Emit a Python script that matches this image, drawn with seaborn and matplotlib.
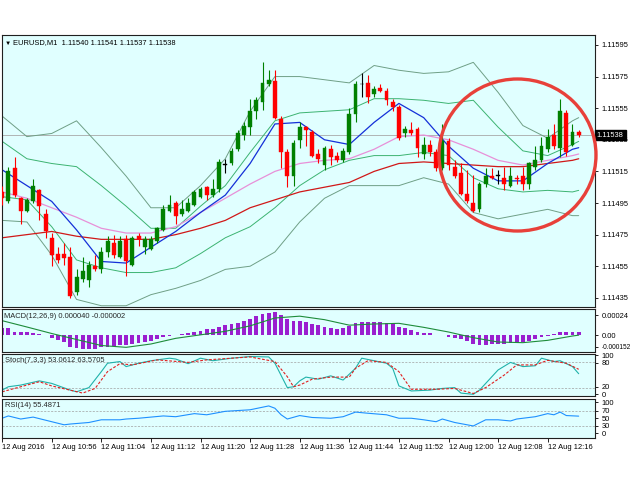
import numpy as np
import matplotlib
matplotlib.use("Agg")
import matplotlib.pyplot as plt
import matplotlib.transforms as mtransforms
from matplotlib.patches import Ellipse
import seaborn as sns

sns.set_theme(style="white")
plt.rcParams["font.family"] = ["Liberation Sans", "DejaVu Sans"]

# ---------------- data ----------------
SYMBOL = "EURUSD,M1"
LAST_OHLC = [1.11540, 1.11541, 1.11537, 1.11538]

OPEN = [1.11502, 1.11496, 1.11517, 1.11498, 1.11490, 1.11496, 1.11503, 1.11488, 1.11473, 1.11463,
        1.11463, 1.11461, 1.11439, 1.11447, 1.11446, 1.11455, 1.11453, 1.11464, 1.11470, 1.11461,
        1.11472, 1.11456, 1.11474, 1.11467, 1.11466, 1.11471, 1.11478, 1.11490, 1.11495, 1.11488,
        1.11490, 1.11494, 1.11499, 1.11505, 1.11500, 1.11504, 1.11519, 1.11520, 1.11529, 1.11538,
        1.11543, 1.11553, 1.11559, 1.11570, 1.11572, 1.11548, 1.11527, 1.11512, 1.11535, 1.11543,
        1.11540, 1.11526, 1.11519, 1.11529, 1.11525, 1.11522, 1.11527, 1.11551, 1.11570, 1.11571,
        1.11564, 1.11568, 1.11566, 1.11559, 1.11556, 1.11539, 1.11541, 1.11542, 1.11526, 1.11532,
        1.11527, 1.11517, 1.11534, 1.11518, 1.11514, 1.11501, 1.11495, 1.11491, 1.11507, 1.11512,
        1.11512, 1.11511, 1.11506, 1.11511, 1.11512, 1.11507, 1.11518, 1.11522, 1.11529, 1.11538,
        1.11530, 1.11552, 1.11532, 1.11540]
HIGH = [1.11506, 1.11518, 1.11524, 1.11499, 1.11498, 1.11510, 1.11504, 1.11491, 1.11476, 1.11467,
        1.11470, 1.11467, 1.11453, 1.11461, 1.11458, 1.11462, 1.11467, 1.11474, 1.11475, 1.11474,
        1.11475, 1.11474, 1.11476, 1.11474, 1.11474, 1.11480, 1.11494, 1.11500, 1.11496, 1.11497,
        1.11498, 1.11503, 1.11505, 1.11506, 1.11510, 1.11523, 1.11523, 1.11530, 1.11541, 1.11546,
        1.11561, 1.11562, 1.11584, 1.11579, 1.11579, 1.11550, 1.11529, 1.11535, 1.11546, 1.11544,
        1.11541, 1.11529, 1.11531, 1.11532, 1.11527, 1.11530, 1.11555, 1.11572, 1.11577, 1.11576,
        1.11569, 1.11570, 1.11568, 1.11561, 1.11557, 1.11544, 1.11546, 1.11543, 1.11537, 1.11535,
        1.11529, 1.11545, 1.11536, 1.11522, 1.11520, 1.11516, 1.11513, 1.11508, 1.11517, 1.11517,
        1.11516, 1.11518, 1.11518, 1.11513, 1.11518, 1.11521, 1.11531, 1.11537, 1.11542, 1.11545,
        1.11561, 1.11554, 1.11545, 1.11541]
LOW = [1.11494, 1.11495, 1.11499, 1.11482, 1.11489, 1.11495, 1.11484, 1.11473, 1.11455, 1.11457,
       1.11456, 1.11435, 1.11437, 1.11445, 1.11442, 1.11452, 1.11451, 1.11461, 1.11460, 1.11460,
       1.11449, 1.11455, 1.11468, 1.11463, 1.11465, 1.11470, 1.11477, 1.11489, 1.11482, 1.11487,
       1.11489, 1.11493, 1.11498, 1.11497, 1.11499, 1.11502, 1.11514, 1.11519, 1.11528, 1.11535,
       1.11538, 1.11548, 1.11554, 1.11569, 1.11548, 1.11517, 1.11505, 1.11506, 1.11530, 1.11531,
       1.11524, 1.11520, 1.11516, 1.11519, 1.11521, 1.11521, 1.11526, 1.11546, 1.11562, 1.11558,
       1.11562, 1.11565, 1.11557, 1.11553, 1.11535, 1.11537, 1.11538, 1.11524, 1.11523, 1.11525,
       1.11515, 1.11516, 1.11516, 1.11511, 1.11500, 1.11495, 1.11489, 1.11489, 1.11505, 1.11510,
       1.11507, 1.11503, 1.11505, 1.11507, 1.11503, 1.11504, 1.11516, 1.11521, 1.11527, 1.11529,
       1.11524, 1.11525, 1.11531, 1.11537]
CLOSE = [1.11498, 1.11515, 1.11500, 1.11490, 1.11497, 1.11506, 1.11493, 1.11477, 1.11462, 1.11459,
         1.11460, 1.11436, 1.11448, 1.11452, 1.11456, 1.11453, 1.11464, 1.11471, 1.11462, 1.11471,
         1.11458, 1.11473, 1.11472, 1.11472, 1.11472, 1.11479, 1.11491, 1.11494, 1.11487, 1.11491,
         1.11495, 1.11502, 1.11504, 1.11500, 1.11504, 1.11521, 1.11519, 1.11528, 1.11539, 1.11544,
         1.11553, 1.11560, 1.11571, 1.11573, 1.11549, 1.11527, 1.11512, 1.11533, 1.11543, 1.11541,
         1.11525, 1.11523, 1.11530, 1.11524, 1.11522, 1.11528, 1.11551, 1.11570, 1.11570, 1.11562,
         1.11567, 1.11566, 1.11560, 1.11556, 1.11536, 1.11542, 1.11539, 1.11530, 1.11532, 1.11527,
         1.11517, 1.11534, 1.11519, 1.11512, 1.11501, 1.11496, 1.11490, 1.11507, 1.11512, 1.11511,
         1.11512, 1.11507, 1.11512, 1.11510, 1.11507, 1.11520, 1.11522, 1.11531, 1.11537, 1.11531,
         1.11553, 1.11527, 1.11540, 1.11538]

TICK_BARS = [0, 8, 16, 24, 32, 40, 48, 56, 64, 72, 80, 88]
TICK_LABELS = ["12 Aug 2016", "12 Aug 10:56", "12 Aug 11:04", "12 Aug 11:12", "12 Aug 11:20",
               "12 Aug 11:28", "12 Aug 11:36", "12 Aug 11:44", "12 Aug 11:52", "12 Aug 12:00",
               "12 Aug 12:08", "12 Aug 12:16"]
PRICE_TICKS = [1.11595, 1.11575, 1.11555, 1.11535, 1.11515, 1.11495, 1.11475, 1.11455, 1.11435]

# main-chart indicator lines, read every 4th bar
LINE_BARS = [0, 4, 8, 12, 16, 20, 24, 28, 32, 36, 40, 44, 48, 52, 56, 60, 64, 68, 72, 76,
             80, 84, 88, 92, 93]
MA_FAST = [1.11516, 1.11506, 1.11496, 1.11478, 1.11458, 1.11457, 1.11467, 1.11477, 1.11489, 1.11500,
           1.11520, 1.11545, 1.11546, 1.11535, 1.11532, 1.11546, 1.11558, 1.11549, 1.11531, 1.11517,
           1.11509, 1.11509, 1.11520, 1.11529, 1.11530]
MA_MID = [1.11502, 1.11498, 1.11492, 1.11486, 1.11479, 1.11476, 1.11476, 1.11480, 1.11489, 1.11498,
          1.11507, 1.11515, 1.11520, 1.11522, 1.11523, 1.11529, 1.11537, 1.11538, 1.11535, 1.11529,
          1.11522, 1.11519, 1.11522, 1.11525, 1.11526]
MA_SLOW = [1.11473, 1.11475, 1.11477, 1.11474, 1.11472, 1.11472, 1.11472, 1.11475, 1.11479, 1.11484,
           1.11492, 1.11497, 1.11502, 1.11505, 1.11508, 1.11515, 1.11520, 1.11521, 1.11520, 1.11519,
           1.11518, 1.11518, 1.11520, 1.11522, 1.11523]
BB_OUT_UP = [1.11550, 1.11537, 1.11539, 1.11547, 1.11530, 1.11512, 1.11492, 1.11492, 1.11506, 1.11523,
             1.11553, 1.11575, 1.11575, 1.11573, 1.11571, 1.11582, 1.11579, 1.11577, 1.11578, 1.11584,
             1.11565, 1.11544, 1.11536, 1.11547, 1.11549]
BB_IN_UP = [1.11534, 1.11523, 1.11520, 1.11518, 1.11506, 1.11493, 1.11479, 1.11479, 1.11493, 1.11506,
            1.11527, 1.11547, 1.11552, 1.11553, 1.11554, 1.11561, 1.11561, 1.11560, 1.11558, 1.11560,
            1.11543, 1.11528, 1.11525, 1.11532, 1.11534]
BB_IN_LO = [1.11499, 1.11497, 1.11480, 1.11459, 1.11454, 1.11451, 1.11451, 1.11454, 1.11463, 1.11473,
            1.11480, 1.11492, 1.11506, 1.11516, 1.11522, 1.11525, 1.11525, 1.11527, 1.11525, 1.11511,
            1.11504, 1.11502, 1.11503, 1.11502, 1.11503]
BB_OUT_LO = [1.11484, 1.11483, 1.11462, 1.11434, 1.11430, 1.11430, 1.11437, 1.11441, 1.11446, 1.11453,
             1.11455, 1.11464, 1.11483, 1.11498, 1.11506, 1.11506, 1.11506, 1.11511, 1.11507, 1.11489,
             1.11485, 1.11488, 1.11491, 1.11487, 1.11487]

MACD_MAIN = [88e-6, 80e-6, 40e-6, 32e-6, 32e-6, 30e-6, 12e-6, 2e-6, -32e-6, -60e-6,
             -80e-6, -140e-6, -160e-6, -172e-6, -172e-6, -172e-6, -140e-6, -140e-6, -132e-6, -124e-6,
             -120e-6, -108e-6, -92e-6, -84e-6, -68e-6, -52e-6, -28e-6, -16e-6, -4e-6, 12e-6,
             28e-6, 40e-6, 52e-6, 68e-6, 76e-6, 100e-6, 116e-6, 132e-6, 148e-6, 172e-6,
             196e-6, 228e-6, 252e-6, 268e-6, 272e-6, 240e-6, 188e-6, 172e-6, 165e-6, 152e-6,
             132e-6, 120e-6, 92e-6, 80e-6, 68e-6, 80e-6, 108e-6, 140e-6, 156e-6, 156e-6,
             156e-6, 152e-6, 148e-6, 132e-6, 100e-6, 80e-6, 60e-6, 32e-6, 28e-6, 20e-6,
             4e-6, -4e-6, -20e-6, -32e-6, -52e-6, -76e-6, -112e-6, -120e-6, -116e-6, -108e-6,
             -108e-6, -104e-6, -100e-6, -92e-6, -88e-6, -68e-6, -52e-6, -28e-6, -12e-6, 12e-6,
             32e-6, 40e-6, 36e-6, 40e-6]
MACD_SIGNAL = [172e-6, 96e-6, 18e-6, -54e-6, -126e-6, -148e-6, -108e-6, -40e-6, 2e-6, 44e-6,
               110e-6, 204e-6, 226e-6, 184e-6, 118e-6, 132e-6, 140e-6, 92e-6, 36e-6, -32e-6,
               -84e-6, -92e-6, -64e-6, -12e-6, -2e-6]

STOCH_MAIN_BARS = [0, 1, 3, 6, 8, 11, 12, 14, 16, 17, 19, 20, 22, 24, 27, 28, 30, 32, 34, 37,
                   40, 43, 44, 46, 47, 48, 49, 51, 53, 55, 57, 58, 60, 62, 63, 64, 66, 69, 71, 73,
                   74, 76, 77, 80, 82, 84, 86, 87, 89, 90, 92, 93]
STOCH_MAIN = [14, 22, 26, 36, 30, 14, 10, 20, 58, 78, 82, 70, 78, 84, 90, 88, 77, 90, 84, 90,
              94, 93, 78, 20, 22, 36, 45, 40, 48, 38, 66, 90, 84, 78, 66, 24, 12, 14, 18, 20,
              7, 4, 14, 62, 80, 70, 72, 90, 82, 84, 70, 53.0612]
STOCH_SIG_BARS = [0, 3, 6, 8, 13, 15, 17, 19, 21, 25, 30, 33, 40, 44, 46, 47, 48, 50, 53, 56,
                  57, 59, 62, 64, 66, 70, 73, 76, 78, 81, 83, 86, 88, 91, 93]
STOCH_SIGNAL = [10, 22, 34, 24, 7, 18, 58, 77, 74, 86, 80, 86, 93, 82, 46, 22, 26, 40, 45, 45,
                66, 84, 80, 58, 16, 16, 18, 6, 20, 50, 74, 74, 85, 78, 63.5705]

RSI_BARS = [0, 1, 3, 5, 8, 10, 11, 14, 16, 19, 20, 22, 26, 28, 31, 33, 36, 40, 43, 44,
            45, 46, 48, 50, 53, 55, 57, 59, 62, 64, 66, 68, 70, 71, 73, 76, 78, 80, 82, 83,
            86, 88, 89, 90, 91, 93]
RSI = [50, 56, 48, 53, 41, 33, 35, 39, 46, 46, 48, 50, 56, 54, 62, 59, 68, 72, 82, 76,
       59, 48, 57, 52, 50, 54, 66, 63, 59, 50, 50, 46, 41, 48, 39, 30, 46, 46, 43, 48,
       54, 62, 59, 66, 57, 55.4871]

# ---------------- styling ----------------
W, H = 630, 490
BG = "#E0FFFF"
C_UP, C_DN = "#008000", "#FF0000"
fig = plt.figure(figsize=(W / 100, H / 100), dpi=100, facecolor="white")


def pane(top, bottom):
    return fig.add_axes([2 / W, 1 - bottom / H, (595 - 2) / W, (bottom - top) / H])


def px(x, y):
    return x / W, 1 - y / H


ax = pane(35, 307)
axm = pane(309, 352)
axs = pane(354, 396)
axr = pane(399, 437.5)
XL = (-0.02, 95.63)
FS = 5.4

for a in (ax, axm, axs, axr):
    a.set_facecolor(BG)
    a.set_xlim(*XL)
    for s in a.spines.values():
        s.set_color("#202020")
        s.set_linewidth(0.8)
    a.yaxis.tick_right()
    a.tick_params(axis="y", labelsize=FS, length=2.5, width=0.6, pad=2,
                  direction="out", colors="black", left=False, right=True)
    a.tick_params(axis="x", bottom=False, labelbottom=False)
    a.grid(False)

# ---- main pane ----
bars = np.arange(len(OPEN))
o, h, l, c = (np.array(v) for v in (OPEN, HIGH, LOW, CLOSE))
cols = np.where(c > o, C_UP, np.where(c < o, C_DN, "black"))
ax.axhline(LAST_OHLC[3], color="#A8A8A8", lw=0.6, zorder=1)

line_specs = [
    (BB_OUT_UP, "#6F9F86", 0.7), (BB_OUT_LO, "#6F9F86", 0.7),
    (BB_IN_UP, "#3CB371", 0.7), (BB_IN_LO, "#3CB371", 0.7),
    (MA_SLOW, "#D01818", 0.9), (MA_MID, "#E890D8", 0.9), (MA_FAST, "#1530D8", 0.9),
]
for vals, col, lw in line_specs:
    sns.lineplot(x=LINE_BARS, y=vals, ax=ax, color=col, lw=lw, zorder=2)

ax.vlines(bars, l, h, colors=cols, lw=0.8, zorder=3)
body_lo = np.minimum(o, c)
body_h = np.maximum(np.abs(c - o), 0.0000045)
ax.bar(bars, body_h, bottom=body_lo, width=0.64, color=cols, edgecolor=cols, lw=0.3, zorder=4)

ax.set_ylim(1.114292, 1.116013)
ax.set_yticks(PRICE_TICKS)
ax.set_yticklabels([f"{v:.5f}" for v in PRICE_TICKS])
ax.text(1.003, LAST_OHLC[3], f"{LAST_OHLC[3]:.5f}", color="white", fontsize=FS,
        ha="left", va="center",
        transform=mtransforms.blended_transform_factory(ax.transAxes, ax.transData),
        bbox=dict(boxstyle="square,pad=0.25", fc="black", ec="black"), zorder=10, clip_on=False)

# ---- MACD pane ----
axm.bar(bars, MACD_MAIN, width=0.6, color="#9A1FCF", lw=0)
sns.lineplot(x=LINE_BARS, y=MACD_SIGNAL, ax=axm, color="#1E8C3A", lw=0.8)
axm.set_ylim(-0.000204, 0.000312)
axm.set_yticks([0.00024, 0.0, -0.000142])
axm.set_yticklabels(["0.00024", "0.00", "-0.000152"])
for t in axm.get_yticklabels():
    if t.get_text().startswith("-"):
        t.set_fontsize(4.7)

# ---- Stochastic pane ----
for lev in (80, 20):
    axs.axhline(lev, color="#A0A0A0", lw=0.5, ls=(0, (3, 2)))
sns.lineplot(x=STOCH_MAIN_BARS, y=STOCH_MAIN, ax=axs, color="#20B2AA", lw=0.8)
sns.lineplot(x=STOCH_SIG_BARS, y=STOCH_SIGNAL, ax=axs, color="#E02020", lw=0.8,
             linestyle=(0, (2.5, 1.5)))
axs.set_ylim(0, 100)
axs.set_yticks([97, 79, 22, 4])
axs.set_yticklabels(["100", "80", "20", "0"])

# ---- RSI pane ----
for lev in (70, 30):
    axr.axhline(lev, color="#A0A0A0", lw=0.5, ls=(0, (3, 2)))
sns.lineplot(x=RSI_BARS, y=RSI, ax=axr, color="#1E90FF", lw=0.8)
axr.set_ylim(0, 100)
axr.set_yticks([91, 70, 50, 30, 11])
axr.set_yticklabels(["100", "70", "50", "30", "0"])
axr.set_xticks(TICK_BARS)
axr.set_xticklabels(TICK_LABELS, ha="left")
axr.tick_params(axis="x", bottom=True, labelbottom=True, labelsize=FS, length=3, width=0.6,
                direction="out", pad=2, colors="black")

for a in (ax, axm, axs, axr):
    a.set_xlim(*XL)
    a.set_xlabel("")
    a.set_ylabel("")

# ---- pane titles ----
fig.text(*px(5, 43), "\u25BC", fontsize=4.5, va="center", ha="left", color="black")
fig.text(*px(13, 43), f"{SYMBOL}  " + " ".join(f"{v:.5f}" for v in LAST_OHLC),
         fontsize=FS, va="center", ha="left", color="black")
fig.text(*px(4, 316), "MACD(12,26,9) 0.000040 -0.000002", fontsize=FS, va="center", ha="left")
fig.text(*px(5, 361), "Stoch(7,3,3) 53.0612 63.5705", fontsize=FS, va="center", ha="left")
fig.text(*px(5, 405), "RSI(14) 55.4871", fontsize=FS, va="center", ha="left")

# ---- highlight circle ----
cx, cy = px(517.5, 155)
fig.add_artist(Ellipse((cx, cy), 157 / W, 152 / H, transform=fig.transFigure,
                       fill=False, ec="#E8403A", lw=2.4, zorder=20))

fig.savefig("out.png", dpi=100, facecolor="white")
